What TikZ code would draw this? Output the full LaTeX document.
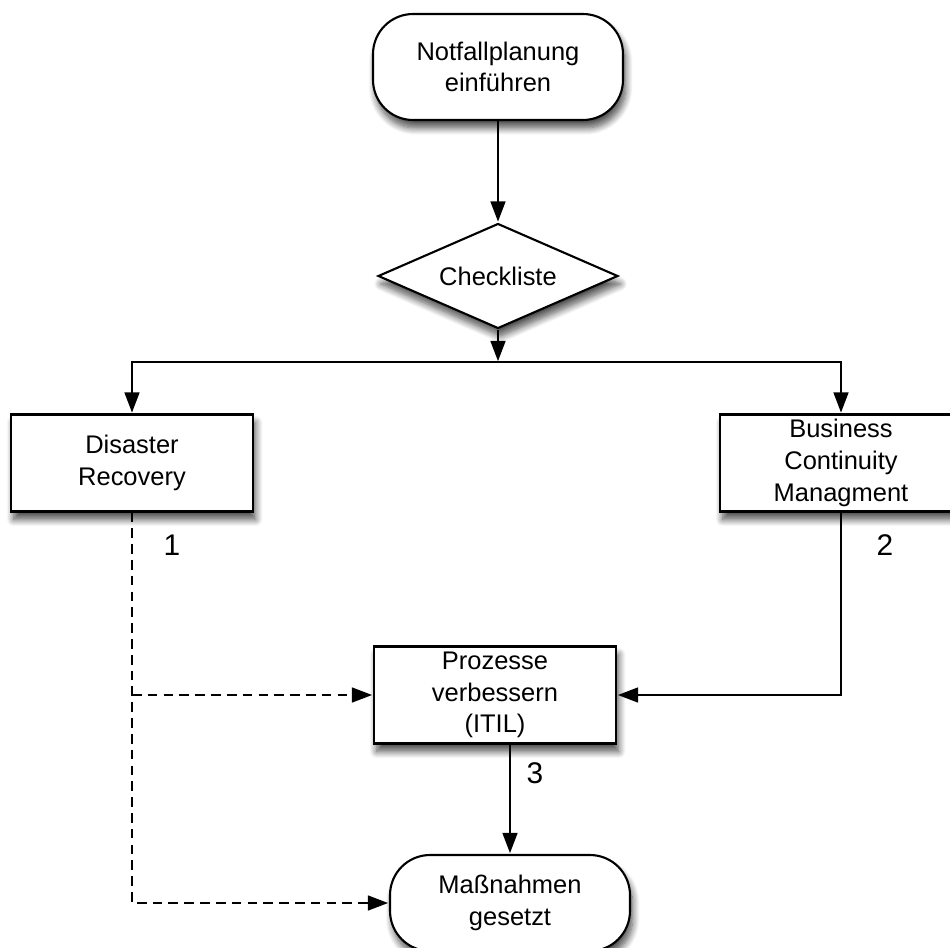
\documentclass[tikz,border=0pt]{standalone}
\usepackage{fontspec}
\setmainfont{Liberation Sans}
\usetikzlibrary{arrows.meta,shapes.geometric,shadows.blur}

\begin{document}
\begin{tikzpicture}[x=0.02cm,y=-0.02cm,>={Triangle[length=11.5pt,width=8.5pt]},
                    line width=1pt,shorten >=0.5pt,
                    every node/.style={font=\fontsize{14.5}{18}\selectfont},
                    shade box/.style={blur shadow={shadow xshift=1.5pt,shadow yshift=-4.5pt,
                        shadow blur radius=4pt,shadow blur steps=10,shadow opacity=70}},
                    box/.style={rectangle,draw,line width=1.2pt,fill=white,align=center,
                      inner sep=0pt,minimum width=4.84cm,minimum height=1.94cm,shade box},
                    term/.style={box,rounded corners=0.8cm},
                    check/.style={diamond,draw,line width=1.2pt,fill=white,aspect=2.3,
                      inner sep=0pt,minimum width=4.8cm,minimum height=2.1cm,shade box},
                    num/.style={font=\fontsize{17}{20}\selectfont},
                    dash line/.style={dash pattern=on 5.5pt off 3.5pt}]
  \useasboundingbox (0,0) rectangle (950,947);
  \clip (0,0) rectangle (950,947);
  % Ablauf
  \node[term,minimum width=5cm,minimum height=2.12cm] (start) at (498,67) {Notfallplanung\\einführen};
  \node[check] (check) at (498,276) {Checkliste};
  \coordinate (split) at (498,362);
  \node[box] (dr) at (132,463) {Disaster\\Recovery};
  \node[box] (bcm) at (841,463) {Business\\Continuity\\Managment};
  \node[box] (proc) at (495,695) {Prozesse\\verbessern\\(ITIL)};
  \node[term,minimum width=4.8cm,minimum height=1.92cm] (done) at (510,903) {Maßnahmen\\gesetzt};
  \node[num] (n1) at (172,545) {1};
  \node[num] (n2) at (885,545) {2};
  \node[num] (n3) at (535,773) {3};
  % Verbindungen
  \draw[->] (start) -- (check);
  \draw[->] (check) -- (split);
  \draw[->] (split) -| (dr.north);
  \draw[->] (split) -| (bcm.north);
  \draw[->,dash line] (dr.south) |- (done.west);
  \draw[->,dash line] (dr.south |- proc.west) -- (proc.west);
  \draw[->] (bcm.south) |- (proc.east);
  \draw[->] (proc.south -| done.north) -- (done.north);
\end{tikzpicture}
\end{document}
